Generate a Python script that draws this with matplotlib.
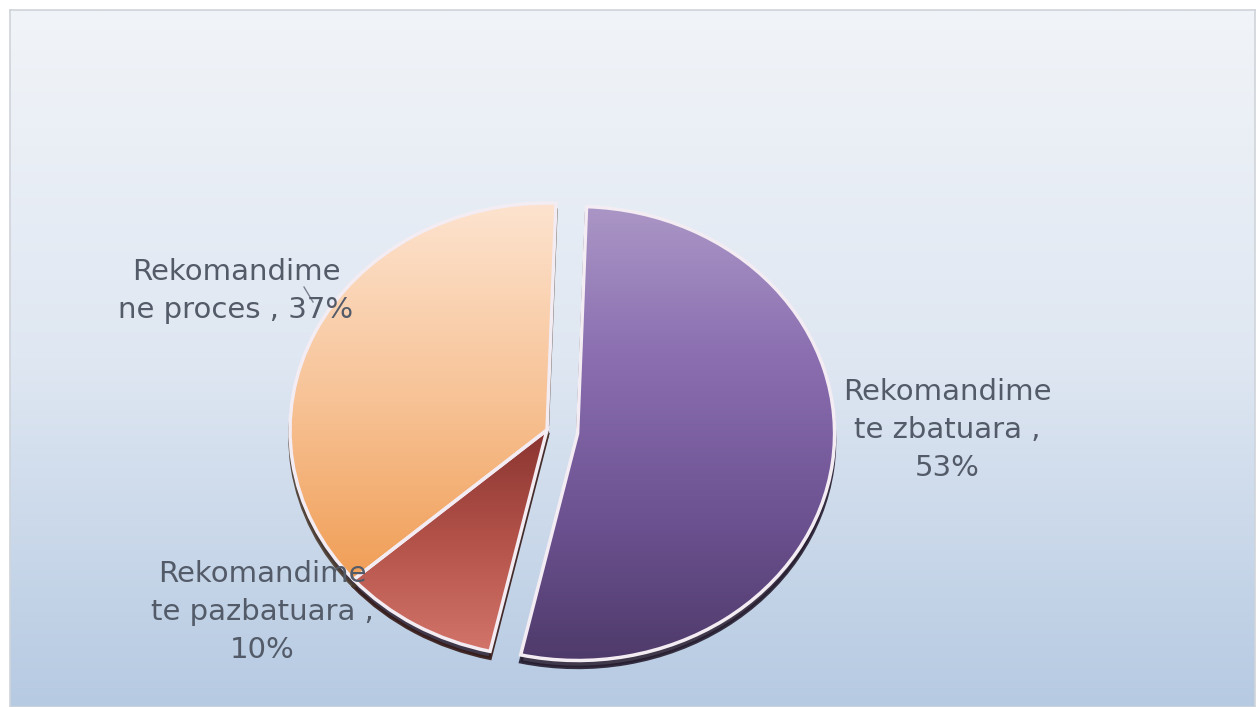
import numpy as np
import matplotlib
matplotlib.use('Agg')
import matplotlib.pyplot as plt
from matplotlib.colors import LinearSegmentedColormap
from matplotlib.patches import Shadow
from matplotlib.lines import Line2D

# ---- data ----
categories = ['Rekomandime\nte zbatuara', 'Rekomandime\nte pazbatuara', 'Rekomandime\nne proces']
values = [53, 10, 37]
separators = [' ,\n', ' ,\n', ' , ']
explode = [0.12, 0, 0]

# ---- style ----
W, H = 1259, 707
fig = plt.figure(figsize=(W / 100, H / 100), dpi=100)
fig.patch.set_facecolor('white')

# background panel with vertical gradient
bg = fig.add_axes([10 / W, 0, (W - 14) / W, (H - 10) / H])
grad = np.linspace(0, 1, 256).reshape(-1, 1)
bg_cmap = LinearSegmentedColormap.from_list('bg', ['#f1f4f8', '#dfe7f2', '#b6cae2'])
bg.imshow(grad, aspect='auto', cmap=bg_cmap, extent=[0, 1, 1, 0])
bg.set_xticks([]); bg.set_yticks([])
for s in bg.spines.values():
    s.set_color('#cfd4da'); s.set_linewidth(1.2)

# pie axes (elliptical pie)
cx, cy, rx, ry = 547, 430, 257, 227
ax = fig.add_axes([(cx - 1.25 * rx) / W, (H - cy - 1.25 * ry) / H, 2.5 * rx / W, 2.5 * ry / H])
ax.patch.set_visible(False)

wedges, _ = ax.pie(values, startangle=88, counterclock=False, explode=explode,
                   colors=['#7a5c9e', '#b0524a', '#f6c196'],
                   wedgeprops=dict(edgecolor='#f3ecf3', linewidth=2.5))

cmaps = [
    (LinearSegmentedColormap.from_list('p', ['#4d3968', '#6e5393', '#8a6eb0', '#ab97c6']), (-1.05, 1.0)),
    (LinearSegmentedColormap.from_list('r', ['#d4766c', '#b4534a', '#8a3430']), (-1.0, 0.0)),
    (LinearSegmentedColormap.from_list('o', ['#f09a4f', '#f7c295', '#fde3cf']), (-0.75, 1.0)),
]
ygrad = np.linspace(-1.25, 1.25, 400).reshape(-1, 1)
for w, (cm, (lo, hi)) in zip(wedges, cmaps):
    sh = Shadow(w, 0.0, -0.022, facecolor='#33283a', alpha=0.9)
    sh.set_zorder(0.5)
    ax.add_patch(sh)
    img = ax.imshow(ygrad, extent=[-1.25, 1.25, -1.25, 1.25], origin='lower',
                    aspect='auto', cmap=cm, vmin=lo, vmax=hi, zorder=1.5)
    img.set_clip_path(w)
    w.set_facecolor('none')
    w.set_zorder(2)

ax.set_xlim(-1.25, 1.25)
ax.set_ylim(-1.25, 1.25)
ax.set_aspect('auto')
ax.axis('off')

# labels
label_pos = [(947, 430), (262, 612), (236, 291)]
for cat, sep, v, (px, py) in zip(categories, separators, values, label_pos):
    fig.text(px / W, 1 - py / H, f'{cat}{sep}{v}%', ha='center', va='center',
             multialignment='center', fontsize=21, color='#535b69', linespacing=1.45,
             family='DejaVu Sans')

# small leader line for the "ne proces" label
fig.add_artist(Line2D([304 / W, 313 / W], [1 - 287 / H, 1 - 302 / H],
                      color='#7a8290', linewidth=1))

fig.savefig('out.png', dpi=100)
